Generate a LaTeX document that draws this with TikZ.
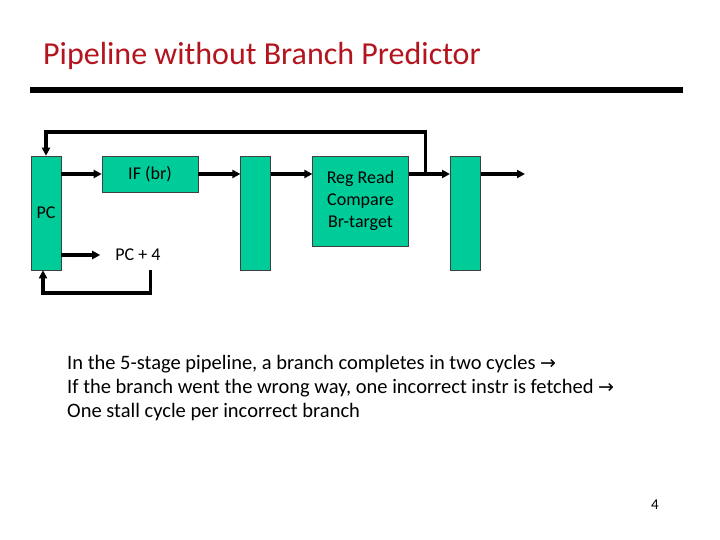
\documentclass[tikz,border=0pt]{standalone}
\usepackage{fontspec}
\setmainfont{Carlito}
\newfontfamily\arrowfont{DejaVu Sans}
\usetikzlibrary{arrows.meta}
\definecolor{stagegreen}{HTML}{00CC99}
\definecolor{titlered}{RGB}{180,20,30}

\begin{document}
\begin{tikzpicture}[x=1pt,y=-1pt,>={Triangle[length=8pt,width=8pt]},
  wire/.style={line width=3.2pt},
  unit/.style={draw=black!75,line width=0.6pt,fill=stagegreen,inner sep=0pt,font=\fontsize{18}{22}\selectfont},
  latch/.style={unit,minimum width=30pt,minimum height=114pt},
  body/.style={anchor=base west,inner sep=0pt,font=\fontsize{20.5}{24}\selectfont}]
  \useasboundingbox (0,0) rectangle (720,540);
  % title
  \node[anchor=base west,inner sep=0pt,text=titlered,font=\fontsize{32}{38}\selectfont] (title) at (43,65) {Pipeline without Branch Predictor};
  \fill (30,87) rectangle (683,93);
  % stages
  \node[latch] (pc) at (46,213) {PC};
  \node[unit,minimum width=96pt,minimum height=36pt] (ifbr) at (150,174) {IF (br)};
  \node[latch] (latA) at (255.7,213) {};
  \node[unit,minimum width=95.6pt,minimum height=90pt,align=center] (regrd) at (360.5,201) {Reg Read\\Compare\\Br-target};
  \node[latch] (latB) at (465.3,213) {};
  \node[inner ysep=0pt,inner xsep=15pt,font=\fontsize{18}{22}\selectfont] (pcfour) at (138,255) {PC + 4};
  % forward path
  \draw[wire,->] (pc.east |- ifbr) -- (ifbr.west);
  \draw[wire,->] (ifbr.east) -- (latA.west |- ifbr);
  \draw[wire,->] (latA.east |- ifbr) -- (regrd.west |- ifbr);
  \draw[wire,->] (regrd.east |- ifbr) -- (latB.west |- ifbr);
  \coordinate (nxt) at (525,174);
  \draw[wire,->] (latB.east |- ifbr) -- (nxt);
  % branch target back to PC
  \coordinate (tap) at (425.5,174);
  \draw[wire,->] (tap) -- (425.5,132) -| (pc.north);
  % PC + 4 loop
  \draw[wire,->] (pc.east |- pcfour) -- (pcfour.west);
  \coordinate (ret) at (150.5,270);
  \draw[wire,->] (ret) -- (150.5,293) -| ([xshift=-3pt]pc.south);
  % notes
  \node[body] (l1) at (67,369) {In the 5-stage pipeline, a branch completes in two cycles {\arrowfont\fontsize{19}{19}\selectfont →}};
  \node[body] (l2) at (67,393) {If the branch went the wrong way, one incorrect instr is fetched {\arrowfont\fontsize{19}{19}\selectfont →}};
  \node[body] (l3) at (67,417) {One stall cycle per incorrect branch};
  \node[anchor=base east,inner sep=0pt,font=\fontsize{15}{18}\selectfont] (pgno) at (659,509) {4};
\end{tikzpicture}
\end{document}
